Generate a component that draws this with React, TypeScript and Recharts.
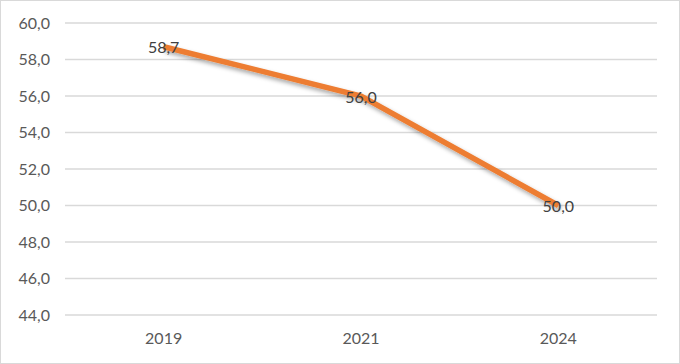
import { LineChart, Line, XAxis, YAxis, CartesianGrid, LabelList } from "recharts"

const years = ["2019", "2021", "2024"]
const values = [58.7, 56.0, 50.0]
const yTicks = [44, 46, 48, 50, 52, 54, 56, 58, 60]

const ORANGE = "#ED7D31"
const FONT = "Lato, 'Open Sans', sans-serif"

const data = years.map((year, i) => ({ year, value: values[i] }))

function fmt(v: number) {
  return v.toFixed(1).replace(".", ",")
}

function PointLabel(props: any) {
  const { x, y, value } = props
  return (
    <text
      x={x}
      y={y}
      textAnchor="middle"
      dominantBaseline="central"
      fill="#404040"
      fontSize={16}
      fontFamily={FONT}
    >
      {fmt(value)}
    </text>
  )
}

export default function App() {
  return (
    <div style={{ position: "absolute", left: 0, top: 0, width: 680, height: 364, background: "#fff" }}>
      <LineChart
        width={680}
        height={364}
        data={data}
        margin={{ top: 23, right: 23, bottom: 0, left: 0 }}
      >
        <defs>
          <filter id="shadow" x="-10%" y="-10%" width="130%" height="140%">
            <feDropShadow dx="2" dy="3" stdDeviation="2" floodColor="#000" floodOpacity="0.35" />
          </filter>
        </defs>
        <CartesianGrid vertical={false} stroke="#d9d9d9" strokeWidth={1.5} />
        <XAxis
          dataKey="year"
          scale="band"
          axisLine={false}
          tickLine={false}
          height={49}
          tickMargin={12}
          tick={{ fill: "#595959", fontSize: 16, fontFamily: FONT }}
        />
        <YAxis
          domain={[44, 60]}
          ticks={yTicks}
          width={65}
          axisLine={false}
          tickLine={false}
          tickMargin={9}
          tickFormatter={fmt}
          tick={{ fill: "#595959", fontSize: 16, fontFamily: FONT }}
        />
        <Line
          type="linear"
          dataKey="value"
          stroke={ORANGE}
          strokeWidth={5.5}
          dot={false}
          filter="url(#shadow)"
          isAnimationActive={false}
        >
          <LabelList dataKey="value" content={<PointLabel />} />
        </Line>
      </LineChart>
      <div
        style={{
          position: "absolute",
          inset: 0,
          border: "1.5px solid #d9d9d9",
          pointerEvents: "none",
        }}
      />
    </div>
  )
}
